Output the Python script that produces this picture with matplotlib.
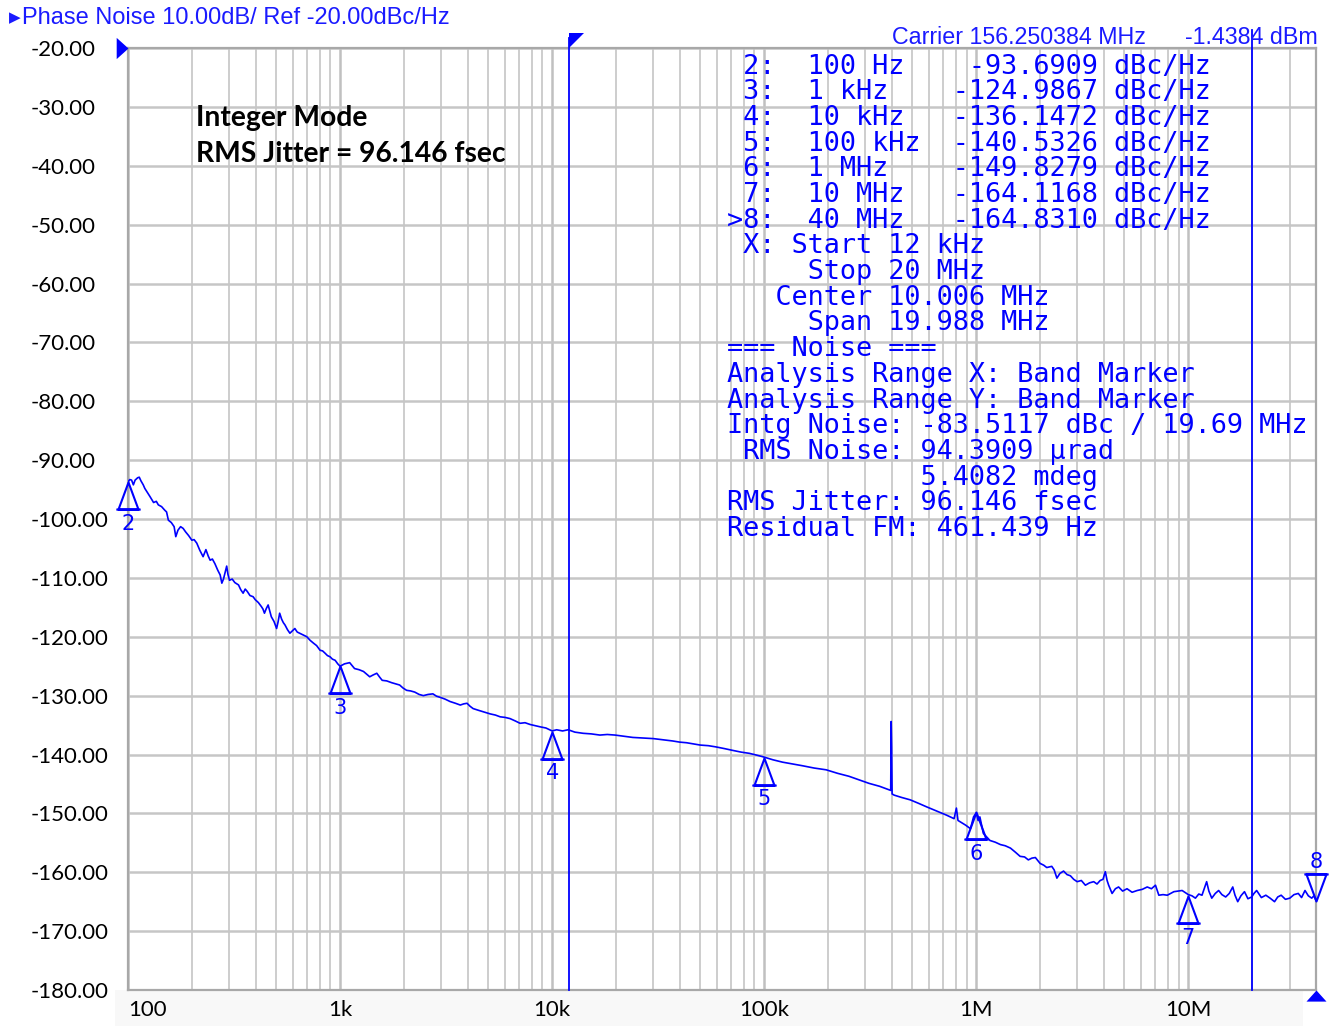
import matplotlib
matplotlib.use('Agg')
import matplotlib.pyplot as plt
from matplotlib.path import Path
from matplotlib.patches import Rectangle
from matplotlib.ticker import LogLocator, NullFormatter
from matplotlib import font_manager

# ---------------- data ----------------
freq_hz = [
    100, 102, 104, 106, 108, 111, 113, 115, 118, 120, 124, 127, 132, 136, 139, 144, 149, 152,
    155, 160, 165, 168, 172, 177, 182, 187, 193, 200, 205, 211, 218, 226, 233, 239, 244, 250,
    257, 265, 272, 277, 282, 286, 292, 296, 301, 310, 319, 332, 340, 349, 357, 365, 376, 389,
    398, 412, 426, 433, 440, 449, 458, 466, 474, 488, 502, 510, 519, 530, 540, 550, 565, 580,
    596, 612, 628, 645, 670, 697, 722, 750, 775, 805, 827, 850, 872, 897, 920, 948, 975,
    1000, 1050, 1110, 1140, 1170, 1230, 1290, 1340, 1380, 1430, 1490, 1540, 1580, 1660, 1750,
    1830, 1910, 1980, 2060, 2150, 2250, 2360, 2470, 2600, 2740, 2850, 2970, 3130, 3300, 3500,
    3690, 3830, 3970, 4100, 4240, 4500, 4800, 5100, 5400, 5690, 6000, 6330, 6700, 7060, 7450,
    7870, 8300, 8780, 9350,
    10000, 10500, 11200, 11900, 12800, 14000, 15300, 16800, 18200, 19800, 21800, 24000, 26800,
    30000, 33300, 37000, 40000, 43000, 46500, 50000, 54500, 59000, 65000, 71000, 78000, 85000,
    92000, 99000,
    110000, 122000, 136000, 151000, 172000, 196000, 222000, 251000, 280000, 312000, 350000,
    389000, 395000, 397000, 399000, 401000, 410000, 445000, 488000, 535000, 584000, 650000,
    724000, 786000, 806000, 820000, 855000, 891000, 939000, 971000,
    1000000, 1020000, 1040000, 1080000, 1160000, 1230000, 1300000, 1370000, 1450000, 1530000,
    1610000, 1690000, 1760000, 1830000, 1900000, 2000000, 2080000, 2150000, 2270000, 2330000,
    2400000, 2480000, 2580000, 2680000, 2780000, 2880000, 2990000, 3130000, 3270000, 3420000,
    3580000, 3710000, 3840000, 3960000, 4060000, 4140000, 4210000, 4370000, 4530000, 4690000,
    4900000, 5140000, 5430000, 5740000, 6070000, 6400000, 6700000, 7000000, 7260000, 7600000,
    7960000, 8550000, 9350000,
    10000000, 10400000, 10800000, 11200000, 11600000, 12200000, 12500000, 12900000, 13400000,
    13900000, 14400000, 15000000, 15600000, 16200000, 16600000, 17100000, 17700000, 18400000,
    19100000, 19900000, 20400000, 21000000, 22100000, 23200000, 24300000, 25500000, 26400000,
    27400000, 28700000, 30100000, 31500000, 33000000, 34200000, 35500000, 36800000, 38200000,
    39100000, 40000000,
]
pn_dbc = [
    -93.7, -93.3, -93.4, -94.2, -93.4, -93.0, -92.9, -93.5, -94.2, -94.8, -95.6, -96.2, -97.2,
    -97.0, -97.6, -97.9, -98.5, -98.8, -100.2, -100.6, -101.3, -103.0, -101.9, -101.3, -101.6,
    -102.2, -102.8, -103.6, -103.5, -104.1, -105.3, -106.4, -105.2, -106.3, -107.0, -106.8,
    -107.6, -108.7, -109.5, -110.9, -110.2, -109.3, -108.0, -109.4, -110.4, -110.2, -110.8,
    -111.2, -112.0, -112.6, -111.9, -112.3, -113.0, -113.2, -113.7, -114.2, -114.9, -115.3,
    -116.0, -115.2, -114.6, -115.6, -116.6, -117.4, -118.6, -117.5, -116.0, -117.0, -117.6,
    -118.0, -118.8, -119.4, -119.0, -118.6, -119.2, -119.4, -119.7, -120.0, -120.6, -121.1,
    -121.5, -122.3, -122.4, -122.8, -123.2, -123.4, -123.8, -124.0, -124.6,
    -125.0, -124.6, -124.4, -124.9, -125.4, -125.6, -125.9, -126.4, -126.8, -126.5, -126.2,
    -126.9, -127.4, -127.5, -127.8, -128.0, -128.2, -128.7, -129.1, -129.2, -129.4, -129.8,
    -130.0, -129.8, -129.7, -130.1, -130.3, -130.6, -131.0, -131.3, -131.6, -131.4, -131.3,
    -131.8, -132.2, -132.5, -132.8, -133.1, -133.3, -133.6, -133.7, -133.9, -134.3, -134.7,
    -134.6, -134.9, -135.1, -135.3, -135.5,
    -136.0, -135.8, -136.0, -135.8, -136.2, -136.4, -136.5, -136.7, -136.6, -136.7, -136.9,
    -137.1, -137.2, -137.3, -137.5, -137.7, -137.9, -138.0, -138.2, -138.4, -138.5, -138.7,
    -139.0, -139.3, -139.6, -139.8, -140.1, -140.4,
    -140.9, -141.3, -141.6, -141.9, -142.3, -142.6, -143.2, -143.7, -144.3, -144.9, -145.4,
    -146.0, -146.1, -134.4, -138.8, -146.7, -146.9, -147.3, -147.7, -148.3, -148.9, -149.6,
    -150.3, -150.9, -149.1, -151.2, -151.6, -152.0, -152.6, -150.6,
    -149.9, -151.2, -150.6, -153.4, -154.6, -154.9, -155.3, -155.5, -155.9, -156.6,
    -157.3, -157.4, -157.9, -157.6, -157.5, -158.5, -158.8, -159.2, -159.0, -159.6,
    -161.0, -160.2, -159.8, -160.4, -160.6, -161.2, -161.6, -161.4, -162.2, -161.8,
    -161.6, -162.0, -161.4, -161.2, -159.9, -161.4, -162.2, -163.6, -162.8, -162.5,
    -163.2, -162.8, -163.4, -163.1, -162.9, -162.5, -162.8, -162.2, -163.9, -163.8,
    -163.9, -163.3, -163.1,
    -163.8, -164.0, -164.4, -163.7, -163.9, -161.6, -163.2, -164.4, -163.6,
    -163.1, -163.8, -164.2, -163.6, -162.5, -163.9, -165.0, -164.0, -163.3,
    -164.5, -164.2, -163.6, -163.1, -164.3, -163.9, -164.4, -165.0, -164.2,
    -163.9, -164.6, -164.4, -163.8, -163.6, -164.3, -163.1, -164.0, -164.4,
    -164.0, -164.8,
]

marker_ids = ['2', '3', '4', '5', '6', '7', '8']
marker_freq = [100, 1e3, 1e4, 1e5, 1e6, 1e7, 4e7]
marker_dbc = [-93.6909, -124.9867, -136.1472, -140.5326, -149.8279, -164.1168, -164.8310]

band_start_hz = 12e3
band_stop_hz = 20e6

y_ticks = [-20, -30, -40, -50, -60, -70, -80, -90, -100, -110, -120, -130, -140, -150,
           -160, -170, -180]
y_tick_labels = ['%.2f' % v for v in y_ticks]
x_ticks = [1e2, 1e3, 1e4, 1e5, 1e6, 1e7]
x_tick_labels = ['100', '1k', '10k', '100k', '1M', '10M']

header_text = 'Phase Noise 10.00dB/ Ref -20.00dBc/Hz'
carrier_text = 'Carrier 156.250384 MHz'
power_text = '-1.4384 dBm'
note_lines = ['Integer Mode', 'RMS Jitter = 96.146 fsec']

table_lines = [
    ' 2:  100 Hz    -93.6909 dBc/Hz',
    ' 3:  1 kHz    -124.9867 dBc/Hz',
    ' 4:  10 kHz   -136.1472 dBc/Hz',
    ' 5:  100 kHz  -140.5326 dBc/Hz',
    ' 6:  1 MHz    -149.8279 dBc/Hz',
    ' 7:  10 MHz   -164.1168 dBc/Hz',
    '>8:  40 MHz   -164.8310 dBc/Hz',
    ' X: Start 12 kHz',
    '     Stop 20 MHz',
    '   Center 10.006 MHz',
    '     Span 19.988 MHz',
    '=== Noise ===',
    'Analysis Range X: Band Marker',
    'Analysis Range Y: Band Marker',
    'Intg Noise: -83.5117 dBc / 19.69 MHz',
    ' RMS Noise: 94.3909 \u00b5rad',
    '            5.4082 mdeg',
    'RMS Jitter: 96.146 fsec',
    'Residual FM: 461.439 Hz',
]

# ---------------- styling ----------------
W, H, DPI = 1334, 1028, 100
BLUE = '#0000ff'
HBLUE = '#1a1aff'

names = {f.name for f in font_manager.fontManager.ttflist}


def pick(*cands):
    for c in cands:
        if c in names:
            return c
    return 'DejaVu Sans'


NARROW = pick('Liberation Sans Narrow', 'Liberation Sans')
HUMAN = pick('Lato', 'Open Sans', 'Liberation Sans')
MONO = pick('DejaVu Sans Mono', 'Liberation Mono')

fig = plt.figure(figsize=(W / DPI, H / DPI), dpi=DPI)
fig.patch.set_facecolor('white')
renderer = fig.canvas.get_renderer()


def px(x, y):
    return x / W, 1 - y / H


def fit(t, target):
    w = t.get_window_extent(renderer).width
    t.set_fontsize(t.get_fontsize() * target / w)
    return t.get_fontsize()


# light band behind x labels
fig.add_artist(Rectangle(px(115, 1026), (1303 - 115) / W, 36 / H,
                         transform=fig.transFigure, color='#f8f8f8', zorder=0, lw=0))

ax = fig.add_axes([128 / W, 1 - 990 / H, 1188 / W, 942 / H])
ax.set_xscale('log')
ax.set_xlim(100, 4e7)
ax.set_ylim(-180, -20)
ax.xaxis.set_minor_locator(LogLocator(base=10, subs=range(2, 10), numticks=30))
ax.xaxis.set_minor_formatter(NullFormatter())
ax.grid(True, which='major', axis='x', color='#c0c0c0', lw=1.8)
ax.grid(True, which='minor', axis='x', color='#cdcdcd', lw=1.4)
ax.grid(True, which='major', axis='y', color='#c6c6c6', lw=1.8)
ax.set_axisbelow(True)
for s in ax.spines.values():
    s.set_color('#a8a8a8')
    s.set_linewidth(1.6)
ax.tick_params(which='both', length=0)

# tick label font size fitted to measured width
tmp = fig.text(0, 0, '-180.00', family=HUMAN, fontsize=16)
tick_fs = fit(tmp, 78)
tmp.remove()

ax.set_yticks(y_ticks)
ax.set_yticklabels(y_tick_labels, family=HUMAN, fontsize=tick_fs, color='black')
for lab in ax.get_yticklabels():
    lab.set_horizontalalignment('left')
ax.tick_params(axis='y', pad=97 * 72 / DPI)

ax.set_xticks(x_ticks)
ax.set_xticklabels(x_tick_labels, family=HUMAN, fontsize=tick_fs, color='black')
ax.get_xticklabels()[0].set_horizontalalignment('left')
ax.tick_params(axis='x', pad=7)

# trace
ax.plot(freq_hz, pn_dbc, color=BLUE, lw=1.2, zorder=3)

# band marker lines
ax.axvline(band_start_hz, color=BLUE, lw=1.3, ymin=0, ymax=1 + 10 / 942, clip_on=False, zorder=4)
ax.axvline(band_stop_hz, color=BLUE, lw=1.3, ymin=0, ymax=1 + 18 / 942, clip_on=False, zorder=4)

# marker triangles
MV, LT, CP = Path.MOVETO, Path.LINETO, Path.CLOSEPOLY
up_path = Path([(0, 0), (-0.37, -1), (0.37, -1), (0, 0), (-0.45, -1), (0.45, -1)],
               [MV, LT, LT, CP, MV, LT])
down_path = Path([(0, 0), (-0.37, 1), (0.37, 1), (0, 0), (-0.45, 1), (0.45, 1)],
                 [MV, LT, LT, CP, MV, LT])
for mid, f, v in zip(marker_ids, marker_freq, marker_dbc):
    is_last = (mid == '8')
    ax.plot([f], [v], ls='none', marker=down_path if is_last else up_path, ms=39,
            mfc='none', mec=BLUE, mew=1.5, clip_on=False, zorder=5)
    ax.annotate(mid, (f, v), xytext=(0, 28 if is_last else -30), textcoords='offset points',
                ha='center', va='center', color=BLUE, family='DejaVu Sans', fontsize=15,
                annotation_clip=False, zorder=6)

# small indicator glyphs on the frame
flag = Path([(0, 0), (0, 1), (1, 1), (0, 0)], [MV, LT, LT, CP])
ax.plot([band_start_hz], [-20], ls='none', marker=flag, ms=21, mfc=BLUE, mec=BLUE, mew=0,
        clip_on=False, zorder=6)
ref = Path([(0, 0), (-1, 0.9), (-1, -0.9), (0, 0)], [MV, LT, LT, CP])
ax.plot([100], [-20], ls='none', marker=ref, ms=17, mfc=BLUE, mec=BLUE, mew=0,
        clip_on=False, zorder=6)
stopm = Path([(0, 0), (-0.9, -1), (0.9, -1), (0, 0)], [MV, LT, LT, CP])
ax.plot([4e7], [-180], ls='none', marker=stopm, ms=16, mfc=BLUE, mec=BLUE, mew=0,
        clip_on=False, zorder=6)

# header
fig.text(*px(9, 18), '\u25b6', family='DejaVu Sans', fontsize=11, color=HBLUE,
         ha='left', va='center')
t = fig.text(*px(22, 18), header_text, family=NARROW, fontsize=16, color=HBLUE,
             ha='left', va='center')
fit(t, 430)
t = fig.text(*px(892, 37), carrier_text, family=NARROW, fontsize=16, color=HBLUE,
             ha='left', va='center')
cfs = fit(t, 255)
fig.text(*px(1318, 37), power_text, family=NARROW, fontsize=cfs, color=HBLUE,
         ha='right', va='center')

# annotation
t2 = fig.text(*px(196, 154), note_lines[1], family=HUMAN, weight='bold', fontsize=18,
              color='black', ha='left', va='center')
nfs = fit(t2, 311)
fig.text(*px(196, 118), note_lines[0], family=HUMAN, weight='bold', fontsize=nfs,
         color='black', ha='left', va='center')

# marker table (monospace)
tfs = 16.2 / 0.602 * 72 / DPI
for i, line in enumerate(table_lines):
    y = 64 + i * 25.7 + 9.5
    fig.text(*px(727, y), line, family=MONO, fontsize=tfs, color=BLUE,
             ha='left', va='baseline', zorder=7)

fig.savefig('out.png', dpi=DPI, facecolor='white')
